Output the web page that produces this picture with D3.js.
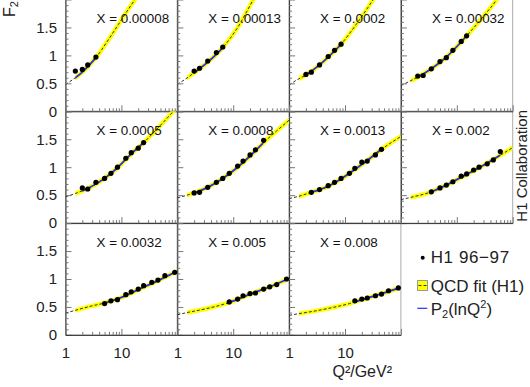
<!DOCTYPE html>
<html>
<head>
<meta charset="utf-8">
<script src="https://cdn.jsdelivr.net/npm/d3@7"></script>
<style>
body { margin: 0; background: #fff; }
svg { display: block; font-family: "Liberation Sans", Arial, Helvetica, sans-serif; }
</style>
</head>
<body>
<svg id="chart" width="530" height="387"></svg>
<script>
// x bins, one panel each
const xLabels = ["0.00008", "0.00013", "0.0002", "0.00032", "0.0005", "0.0008",
                 "0.0013", "0.002", "0.0032", "0.005", "0.008"];

// H1 96-97 points (Q2, F2) per panel
const dataQ2 = [
  [1.5, 2, 2.5, 3.5],
  [2, 2.5, 3.5, 5, 6.5],
  [2, 2.5, 3.5, 5, 6.5, 8.5],
  [2, 2.5, 3.5, 5, 6.5, 8.5, 12, 15],
  [2, 2.5, 3.5, 5, 6.5, 8.5, 12, 15, 20, 25],
  [2, 2.5, 3.5, 5, 6.5, 8.5, 12, 15, 20, 25, 35],
  [2.5, 3.5, 5, 6.5, 8.5, 12, 15, 20, 25, 35, 45],
  [3.5, 5, 6.5, 8.5, 12, 15, 20, 25, 35, 45, 60],
  [5, 6.5, 8.5, 12, 15, 20, 25, 35, 45, 60, 90],
  [8.5, 12, 15, 20, 25, 35, 45, 60, 90],
  [15, 20, 25, 35, 45, 60, 90]
];
const dataF2 = [
  [0.72, 0.75, 0.83, 0.97],
  [0.72, 0.77, 0.90, 1.05, 1.15],
  [0.66, 0.70, 0.83, 0.98, 1.09, 1.20],
  [0.63, 0.64, 0.76, 0.89, 0.96, 1.09, 1.25, 1.35],
  [0.63, 0.61, 0.73, 0.80, 0.89, 1.00, 1.16, 1.26, 1.34, 1.44],
  [0.54, 0.55, 0.64, 0.73, 0.80, 0.89, 1.02, 1.11, 1.22, 1.31, 1.48],
  [0.55, 0.60, 0.67, 0.73, 0.80, 0.89, 0.98, 1.09, 1.11, 1.22, 1.32],
  [0.56, 0.63, 0.68, 0.74, 0.84, 0.88, 0.95, 1.00, 1.06, 1.13, 1.28],
  [0.56, 0.61, 0.63, 0.72, 0.77, 0.82, 0.88, 0.94, 0.98, 1.06, 1.12],
  [0.59, 0.64, 0.70, 0.74, 0.75, 0.82, 0.86, 0.90, 1.00],
  [0.61, 0.64, 0.66, 0.70, 0.73, 0.79, 0.84]
];

// QCD fit curve
const fitQ2 = [
  [1, 1.5, 2, 2.5, 3.5, 5.5, 8.8, 12.4, 17.5, 25],
  [1, 1.37, 2, 3.5, 6.5, 11.5, 23, 30],
  [1, 1.37, 2, 3.5, 5, 8.5, 16, 32, 40],
  [1, 1.45, 2, 3.5, 6.5, 15, 30, 52, 70],
  [1, 1.5, 2.5, 5, 8.5, 15, 25, 43, 85, 100],
  [1, 1.5, 2, 3.5, 6.5, 12, 20, 35, 60, 100],
  [1, 1.5, 2, 5, 8.5, 15, 25, 45, 100],
  [1, 1.5, 3.5, 6.5, 12, 25, 45, 100],
  [1, 1.5, 3, 5, 10, 20, 45, 100],
  [1, 1.5, 3, 8.5, 20, 45, 100],
  [1, 1.5, 3, 6, 12, 25, 50, 100]
];
const fitF2 = [
  [0.48, 0.60, 0.70, 0.80, 0.96, 1.24, 1.55, 1.78, 2.0, 2.25],
  [0.48, 0.57, 0.69, 0.88, 1.14, 1.47, 2.0, 2.2],
  [0.47, 0.56, 0.65, 0.83, 0.97, 1.20, 1.56, 2.0, 2.15],
  [0.46, 0.54, 0.61, 0.76, 0.97, 1.35, 1.70, 2.0, 2.2],
  [0.47, 0.53, 0.62, 0.80, 0.99, 1.24, 1.44, 1.68, 2.0, 2.08],
  [0.45, 0.50, 0.54, 0.64, 0.80, 1.00, 1.20, 1.44, 1.65, 1.84],
  [0.44, 0.48, 0.52, 0.66, 0.79, 0.96, 1.12, 1.32, 1.55],
  [0.42, 0.46, 0.56, 0.68, 0.82, 0.99, 1.14, 1.35],
  [0.39, 0.44, 0.52, 0.57, 0.67, 0.81, 0.97, 1.14],
  [0.36, 0.40, 0.46, 0.58, 0.73, 0.86, 1.01],
  [0.35, 0.38, 0.43, 0.49, 0.56, 0.66, 0.75, 0.85]
];
const bandStartQ2 = 1.5;   // yellow band starts here, dashed grey below

const yMajor = [0, 0.5, 1, 1.5, 2];
const yMinor = d3.range(1, 20).map(d => d / 10).filter(d => Math.round(d * 10) % 5 != 0);
const xMajor = [1, 10, 100];
const xMinor = [2, 3, 4, 5, 6, 7, 8, 9, 20, 30, 40, 50, 60, 70, 80, 90];

const left0 = 65.5, top0 = -0.5;
const pw = 111.8, ph = 111.8;

const svg = d3.select("#chart");

const x = d3.scaleLog().domain([1, 100]).range([0, pw]);
const y = d3.scaleLinear().domain([0, 2]).range([ph, 0]);

const line = d3.line()
  .x(d => x(d[0]))
  .y(d => y(d[1]))
  .curve(d3.curveMonotoneX);

const defs = svg.append("defs");

// light frames first, so dark axes of neighbours sit on top
xLabels.forEach(function (lab, i) {
  let c = i % 4, r = Math.floor(i / 4);
  svg.append("rect")
    .attr("x", left0 + c * pw).attr("y", top0 + r * ph)
    .attr("width", pw).attr("height", ph)
    .attr("fill", "none").attr("stroke", "#aaa").attr("stroke-width", 1);
});

xLabels.forEach(function (lab, i) {
  let c = i % 4, r = Math.floor(i / 4);
  let g = svg.append("g")
    .attr("transform", "translate(" + (left0 + c * pw) + "," + (top0 + r * ph) + ")");

  let q = dataQ2[i];
  let x0 = x(bandStartQ2);
  let xa0 = x(q[0]), xa1 = x(q[q.length - 1]);

  defs.append("clipPath").attr("id", "clipP" + i)
    .append("rect").attr("x", 0).attr("y", 0).attr("width", pw).attr("height", ph);
  defs.append("clipPath").attr("id", "clipB" + i)
    .append("rect").attr("x", x0).attr("y", 0).attr("width", pw - x0).attr("height", ph);
  defs.append("clipPath").attr("id", "clipL" + i)
    .append("rect").attr("x", xa0).attr("y", 0).attr("width", xa1 - xa0).attr("height", ph);

  let fit = fitQ2[i].map((d, k) => [d, fitF2[i][k]]);
  let pts = q.map((d, k) => [d, dataF2[i][k]]);

  g.append("path").datum(fit)
    .attr("clip-path", "url(#clipB" + i + ")")
    .attr("d", line)
    .attr("fill", "none").attr("stroke", "#ffff00").attr("stroke-width", 4.5);

  g.append("path").datum(fit)
    .attr("clip-path", "url(#clipP" + i + ")")
    .attr("d", line)
    .attr("fill", "none").attr("stroke", "#333").attr("stroke-width", 1)
    .attr("stroke-dasharray", "3,2");

  // P2(lnQ2) only over the measured range
  g.append("path").datum(fit)
    .attr("clip-path", "url(#clipL" + i + ")")
    .attr("d", line)
    .attr("fill", "none").attr("stroke", "#2b2bff").attr("stroke-width", 1.8);

  g.selectAll("circle").data(pts).enter().append("circle")
    .attr("cx", d => x(d[0])).attr("cy", d => y(d[1]))
    .attr("r", 2.6).attr("fill", "#000");

  g.append("text")
    .attr("x", 31).attr("y", 23.5)
    .attr("font-size", "13.4px").attr("fill", "#111")
    .text("X = " + lab);

  // ticks inside the frame
  g.append("g").call(d3.axisRight(y).tickValues(yMajor).tickSize(6).tickSizeOuter(0).tickFormat(""));
  g.append("g").call(d3.axisRight(y).tickValues(yMinor).tickSize(3).tickFormat(""))
    .select(".domain").remove();
  g.append("g").attr("transform", "translate(0," + ph + ")")
    .call(d3.axisTop(x).tickValues(xMajor).tickSize(6).tickSizeOuter(0).tickFormat(""));
  g.append("g").attr("transform", "translate(0," + ph + ")")
    .call(d3.axisTop(x).tickValues(xMinor).tickSize(3).tickFormat(""))
    .select(".domain").remove();

  g.selectAll(".tick line").attr("stroke", "#777");
  g.selectAll(".domain").attr("stroke", "#333");

  if (c == 0) {
    let ya = g.append("g").call(d3.axisLeft(y).tickValues([0, 0.5, 1, 1.5]).tickSize(0).tickPadding(8.5)
      .tickFormat(d3.format("")));
    ya.select(".domain").remove();
    ya.selectAll("text").attr("font-size", "15px").attr("fill", "#222")
      .attr("font-family", "'Liberation Sans', Arial, sans-serif");
  }
  if (r == 2) {
    let xa = g.append("g").attr("transform", "translate(0," + ph + ")")
      .call(d3.axisBottom(x).tickValues([1, 10]).tickSize(0).tickPadding(12).tickFormat(d3.format("")));
    xa.select(".domain").remove();
    xa.selectAll("text").attr("font-size", "15px").attr("fill", "#222")
      .attr("font-family", "'Liberation Sans', Arial, sans-serif");
  }
});

// axis titles
let yt = svg.append("text")
  .attr("transform", "translate(15,1) rotate(-90)")
  .attr("text-anchor", "end").attr("font-size", "16px").attr("fill", "#222");
yt.append("tspan").text("F");
yt.append("tspan").attr("font-size", "11px").attr("dy", 3).text("2");

svg.append("text")
  .attr("x", 392).attr("y", 376.7)
  .attr("text-anchor", "end").attr("font-size", "16px").attr("fill", "#222")
  .text("Q\u00b2/GeV\u00b2");

svg.append("text")
  .attr("transform", "translate(526.5,221.7) rotate(-90)")
  .attr("font-size", "15px").attr("fill", "#222")
  .text("H1 Collaboration");

// legend
let leg = svg.append("g");
leg.append("circle").attr("cx", 422.7).attr("cy", 257.7).attr("r", 2).attr("fill", "#000");
leg.append("text").attr("x", 430.7).attr("y", 263.3).attr("font-size", "17px").attr("fill", "#222")
  .attr("letter-spacing", "0.6px")
  .text("H1 96\u221297");

leg.append("rect").attr("x", 417.5).attr("y", 280.5).attr("width", 10).attr("height", 10)
  .attr("fill", "#ffff00").attr("stroke", "#999");
leg.append("line").attr("x1", 418.5).attr("x2", 426.5).attr("y1", 285.5).attr("y2", 285.5)
  .attr("stroke", "#333").attr("stroke-dasharray", "3,2");
leg.append("text").attr("x", 430.7).attr("y", 291.7).attr("font-size", "17px").attr("fill", "#222")
  .text("QCD fit (H1)");

leg.append("line").attr("x1", 417.3).attr("x2", 427.3).attr("y1", 308.3).attr("y2", 308.3)
  .attr("stroke", "#2b2bff").attr("stroke-width", 1.2);
let pt = leg.append("text").attr("x", 430.7).attr("y", 315).attr("font-size", "17px").attr("fill", "#222");
pt.append("tspan").text("P");
pt.append("tspan").attr("font-size", "11px").attr("dy", 3).text("2");
pt.append("tspan").attr("dy", -3).text("(lnQ");
pt.append("tspan").attr("font-size", "11px").attr("dy", -7).text("2");
pt.append("tspan").attr("dy", 7).text(")");
</script>
</body>
</html>
